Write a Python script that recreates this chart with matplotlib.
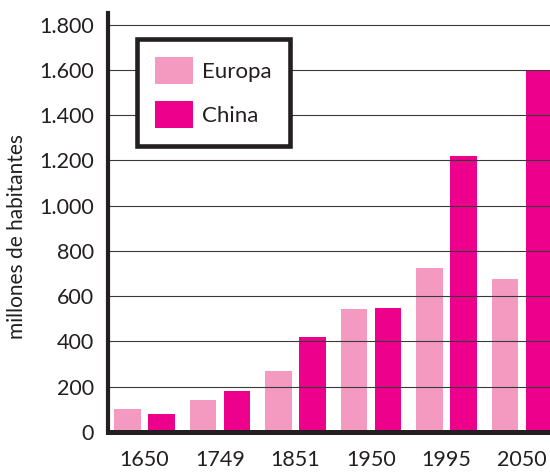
import matplotlib
matplotlib.use("Agg")
import matplotlib.pyplot as plt
import numpy as np
from matplotlib.patches import Patch

years = ["1650", "1749", "1851", "1950", "1995", "2050"]
europa = [100, 140, 270, 545, 725, 675]
china = [80, 180, 420, 550, 1220, 1600]
yticks = [0, 200, 400, 600, 800, 1000, 1200, 1400, 1600, 1800]
ytick_labels = ["0", "200", "400", "600", "800", "1.000", "1.200", "1.400", "1.600", "1.800"]

c_eu = "#F49AC1"
c_cn = "#EC008C"
ink = "#231F20"

plt.rcParams['font.family'] = ['Lato', 'DejaVu Sans']

fig = plt.figure(figsize=(5.5, 4.74), dpi=100)
ax = fig.add_axes([108/550, 42/474, 1 - 108/550, (432 - 13.3)/474])

x = np.arange(len(years))
w = 0.351
ax.bar(x - 0.225, europa, w, color=c_eu, zorder=1)
ax.bar(x + 0.225, china, w, color=c_cn, zorder=1)

ax.set_xlim(-0.482, 5.372)
ax.set_ylim(0, 1850)
ax.set_yticks(yticks)
ax.set_yticklabels(ytick_labels)
ax.set_xticks(x)
ax.set_xticklabels(years)
ax.tick_params(axis='both', length=0, labelsize=15.5, colors=ink)
ax.tick_params(axis='y', pad=10)
ax.tick_params(axis='x', pad=13)

for yv in yticks[1:]:
    ax.axhline(yv, color="#3a3a3a", lw=0.8, zorder=2)

for s in ['top', 'right']:
    ax.spines[s].set_visible(False)
ax.spines['left'].set_linewidth(3.0)
ax.spines['left'].set_color(ink)
ax.spines['bottom'].set_linewidth(3.6)
ax.spines['bottom'].set_color(ink)
ax.spines['left'].set_zorder(3)
ax.spines['bottom'].set_zorder(3)

ax.set_ylabel("millones de habitantes", fontsize=15, color=ink)
ax.yaxis.set_label_coords(-0.183, 0.468)

handles = [Patch(facecolor=c_eu, label="Europa"), Patch(facecolor=c_cn, label="China")]
leg = ax.legend(handles=handles, loc='upper left',
                bbox_to_anchor=(137.25/550, 1 - 39.25/474), bbox_transform=fig.transFigure,
                borderaxespad=0, fontsize=16, frameon=True, fancybox=False,
                handlelength=1.72, handleheight=1.5, labelspacing=0.75,
                handletextpad=0.4, borderpad=0.8)
leg.get_frame().set_linewidth(3.3)
leg.get_frame().set_edgecolor(ink)
leg.get_frame().set_facecolor("white")
leg.get_frame().set_alpha(1)
leg.set_zorder(5)
for t in leg.get_texts():
    t.set_color(ink)

fig.savefig("out.png", dpi=100)
